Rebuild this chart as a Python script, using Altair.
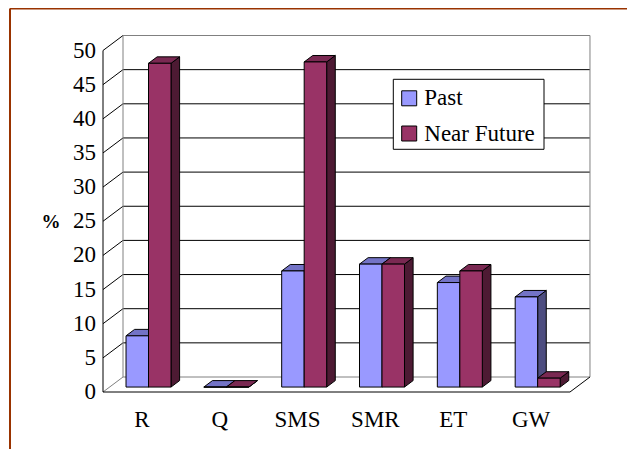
import altair as alt
import pandas as pd

# ---------------- data ----------------
categories = ["R", "Q", "SMS", "SMR", "ET", "GW"]
series = ["Past", "Near Future"]
past = [7.5, 0.0, 17.0, 18.0, 15.3, 13.2]
near_future = [47.4, 0.0, 47.6, 18.0, 17.0, 1.3]
y_ticks = list(range(0, 51, 5))
x_ticks = list(range(0, 7))
y_title = "%"

front_colors = ["#9999FF", "#993366"]
top_colors = ["#7373C6", "#7A2952"]
side_colors = ["#4D4D80", "#4D1A33"]

# ---------------- geometry (3-D look) ----------------
KX = 77.83          # px per category
KY = 6.83           # px per value unit
W_PLOT, H_PLOT = 487, 362
DXU = 20 / KX       # full depth offset, x (category units)
DYU = 15 / KY       # full depth offset, y (value units)
D0, D1 = 0.33, 0.76 # bar depth range (fraction)
BW = 0.289          # bar width (category units)
FONT = "Liberation Serif"

xs = alt.Scale(domain=[0, W_PLOT / KX], nice=False, zero=False)
ys = alt.Scale(domain=[0, H_PLOT / KY], nice=False, zero=False)
cs = alt.Scale(domain=series, range=front_colors)

# bars
fronts, sides, tops = [], [], []
sx0, sy0 = D0 * DXU, D0 * DYU
ddx, ddy = (D1 - D0) * DXU, (D1 - D0) * DYU
for si, (s, vals) in enumerate(zip(series, [past, near_future])):
    for i, (c, v) in enumerate(zip(categories, vals)):
        xl = i + 0.5 - BW + si * BW + sx0
        xr = xl + BW
        base = sy0
        top = v + sy0
        bid = f"{s}-{c}"
        fronts.append(dict(series=s, cat=c, x=xl, x2=xr, y=base, y2=top))
        sides.append(dict(id=bid, s=si, col=side_colors[si], x=xr, y=base, y2=top))
        sides.append(dict(id=bid, s=si, col=side_colors[si], x=xr + ddx, y=base + ddy, y2=top + ddy))
        tops.append(dict(id=bid, s=si, col=top_colors[si], y=top, x=xl, x2=xr))
        tops.append(dict(id=bid, s=si, col=top_colors[si], y=top + ddy, x=xl + ddx, x2=xr + ddx))
fronts = pd.DataFrame(fronts)
sides = pd.DataFrame(sides)
tops = pd.DataFrame(tops)

# walls / grid
lines = []
for v in y_ticks:
    col = "#808080" if v in (0, 50) else "#000000"
    lines.append(dict(x=DXU, x2=6 + DXU, y=v + DYU, y2=v + DYU, col=col))
    lines.append(dict(x=0, x2=DXU, y=v, y2=v + DYU, col="#808080" if v == 0 else "#000000"))
lines.append(dict(x=DXU, x2=DXU, y=DYU, y2=50 + DYU, col="#808080"))
lines.append(dict(x=6 + DXU, x2=6 + DXU, y=DYU, y2=50 + DYU, col="#808080"))
lines.append(dict(x=6, x2=6 + DXU, y=0, y2=DYU, col="#000000"))
lines.append(dict(x=0, x2=6, y=0, y2=0, col="#000000"))
lines.append(dict(x=0, x2=0, y=0, y2=50, col="#000000"))
lines = pd.DataFrame(lines)

labels = pd.DataFrame({"cat": categories, "x": [i + 0.5 for i in range(len(categories))]})
ylab = pd.DataFrame({"v": y_ticks, "t": [str(v) for v in y_ticks]})

# legend rows (pixel centres of the reference, converted to value units)
ZERO_PX = 392
leg_rows_px = [98.3, 133.5]
legend_df = pd.DataFrame({"series": series, "v": [(ZERO_PX - p) / KY for p in leg_rows_px]})

# ---------------- layers ----------------
grid = alt.Chart(lines).mark_rule(strokeWidth=1).encode(
    x=alt.X("x:Q", scale=xs, axis=alt.Axis(values=x_ticks, labels=False, domain=False, grid=False,
                                          tickSize=6, tickColor="black", title=None)),
    x2="x2:Q",
    y=alt.Y("y:Q", scale=ys, axis=alt.Axis(values=y_ticks, domain=False, grid=False, tickSize=5,
                                          tickColor="black", labels=False, title=None)),
    y2="y2:Q",
    stroke=alt.Stroke("col:N", scale=None),
)

def side_layer(si):
    return alt.Chart(sides[sides.s == si]).mark_area(stroke="black", strokeWidth=1, orient="vertical").encode(
        x=alt.X("x:Q", scale=xs, axis=None),
        y=alt.Y("y:Q", scale=ys, stack=None, axis=None),
        y2="y2:Q",
        detail="id:N",
        fill=alt.Fill("col:N", scale=None),
    )

def top_layer(si):
    return alt.Chart(tops[tops.s == si]).mark_area(stroke="black", strokeWidth=1, orient="horizontal").encode(
        y=alt.Y("y:Q", scale=ys, axis=None),
        x=alt.X("x:Q", scale=xs, stack=None, axis=None),
        x2="x2:Q",
        detail="id:N",
        fill=alt.Fill("col:N", scale=None),
    )

front = alt.Chart(fronts).mark_rect(stroke="black", strokeWidth=1).encode(
    x=alt.X("x:Q", scale=xs, axis=None),
    x2="x2:Q",
    y=alt.Y("y:Q", scale=ys, axis=None),
    y2="y2:Q",
    color=alt.Color("series:N", scale=cs, legend=None),
)

cat_text = alt.Chart(labels).mark_text(font=FONT, fontSize=23, color="black", baseline="middle").encode(
    x=alt.X("x:Q", scale=xs, axis=None),
    y=alt.value(390),
    text="cat:N",
)

y_text = alt.Chart(ylab).mark_text(font=FONT, fontSize=23, color="black", baseline="middle",
                                   align="right").encode(
    x=alt.value(-7),
    y=alt.Y("v:Q", scale=ys, axis=None),
    text="t:N",
)

y_title_text = alt.Chart(pd.DataFrame({"t": [y_title]})).mark_text(
    font=FONT, fontSize=19, fontWeight="bold", color="black", baseline="middle", align="center"
).encode(x=alt.value(-52), y=alt.value(192), text="t:N")

# legend box, symbols and labels
leg_box = alt.Chart(pd.DataFrame({"k": [0]})).mark_rect(fill="white", stroke="black", strokeWidth=1).encode(
    x=alt.value(290.3), x2=alt.value(441), y=alt.value(49.3), y2=alt.value(119.3)
)
leg_sym = alt.Chart(legend_df).mark_square(size=225, filled=True, opacity=1, stroke="black",
                                           strokeWidth=1).encode(
    x=alt.value(306.2),
    y=alt.Y("v:Q", scale=ys, axis=None),
    color=alt.Color("series:N", scale=cs, legend=None),
)
leg_txt = alt.Chart(legend_df).mark_text(font=FONT, fontSize=23, color="black", align="left",
                                         baseline="middle").encode(
    x=alt.value(321.3),
    y=alt.Y("v:Q", scale=ys, axis=None),
    text="series:N",
)

border = alt.Chart(pd.DataFrame({"k": [0]})).mark_rule(color="#993300", strokeWidth=2).encode(
    x=alt.value(-93), x2=alt.value(524), y=alt.value(-21.5), y2=alt.value(-21.5)
)
border_left = alt.Chart(pd.DataFrame({"k": [0]})).mark_rule(color="#993300", strokeWidth=2).encode(
    x=alt.value(-93), x2=alt.value(-93), y=alt.value(-21.5), y2=alt.value(419)
)

chart = alt.layer(
    grid, side_layer(0), top_layer(0), side_layer(1), top_layer(1), front,
    cat_text, y_text, y_title_text, leg_box, leg_sym, leg_txt, border, border_left
).properties(
    width=W_PLOT, height=H_PLOT,
    autosize=alt.AutoSizeParams(type="none"),
    padding={"left": 95, "top": 22, "right": 37, "bottom": 57},
    background="white",
).configure_view(stroke=None)

chart.save("out.html", embed_options={"renderer": "svg", "actions": False})
